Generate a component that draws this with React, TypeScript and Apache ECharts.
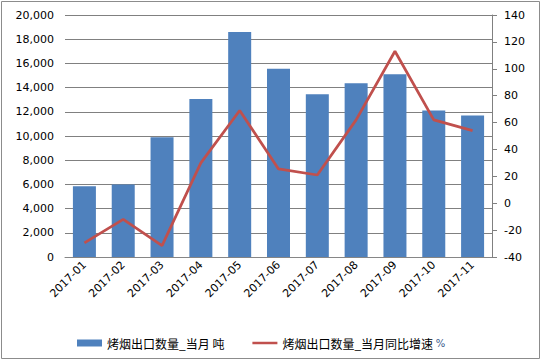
import React, { useEffect, useRef } from "react";
import * as echarts from "echarts";

const categories = ["2017-01", "2017-02", "2017-03", "2017-04", "2017-05", "2017-06", "2017-07", "2017-08", "2017-09", "2017-10", "2017-11"];
const volume = [5850, 6000, 9900, 13050, 18600, 15550, 13450, 14350, 15100, 12100, 11700];
const growth = [-29.5, -12, -31.5, 30, 69, 25.5, 21, 62, 113, 62, 54];
const barName = "烤烟出口数量_当月 吨";
const lineName = "烤烟出口数量_当月同比增速 %";

export default function App() {
  const ref = useRef<HTMLDivElement>(null);
  useEffect(() => {
    const chart = echarts.init(ref.current!, null, { renderer: "svg" });
    const font = "DejaVu Sans, Verdana, sans-serif";
    chart.setOption({
      animation: false,
      backgroundColor: "#ffffff",
      graphic: [
        {
          type: "rect",
          shape: { x: 1.5, y: 1.5, width: 538, height: 357 },
          style: { fill: "none", stroke: "#8c8c8c", lineWidth: 1 },
          silent: true,
        },
      ],
      grid: { left: 65, right: 53, top: 15, bottom: 106 },
      legend: {
        left: 72,
        top: 332,
        itemWidth: 25,
        itemHeight: 7,
        itemGap: 28,
        textStyle: {
          fontFamily: "Noto Sans CJK SC",
          fontSize: 12,
          color: "#000",
          rich: {
            a: { fontFamily: "Noto Sans CJK SC", fontSize: 12, color: "#000" },
            b: { fontFamily: font, fontSize: 10, color: "#3a5a8c" },
          },
        },
        formatter: (n: string) => {
          if (n === lineName) return "{a|烤烟出口数量_当月同比增速} {b|%}";
          return "{a|" + n + "}";
        },
        data: [
          { name: barName, icon: "rect" },
          { name: lineName, icon: "path://M0,0H26V2.6H0Z" },
        ],
      },
      xAxis: {
        type: "category",
        data: categories,
        axisLine: { show: true, lineStyle: { color: "#868686", width: 1 } },
        axisTick: { show: false },
        axisLabel: { rotate: 45, fontFamily: font, fontSize: 11, color: "#000", margin: 6, interval: 0 },
      },
      yAxis: [
        {
          type: "value",
          min: 0,
          max: 20000,
          interval: 2000,
          axisLine: { show: false },
          axisTick: { show: false },
          splitLine: { lineStyle: { color: "#808080", width: 1 } },
          axisLabel: {
            fontFamily: font,
            fontSize: 11,
            color: "#000",
            margin: 11,
            formatter: (v: number) => v.toLocaleString("en-US"),
          },
        },
        {
          type: "value",
          min: -40,
          max: 140,
          interval: 20,
          position: "right",
          axisLine: { show: true, lineStyle: { color: "#808080", width: 1 } },
          axisTick: { show: true, length: 5, inside: false, lineStyle: { color: "#808080" } },
          splitLine: { show: false },
          axisLabel: { fontFamily: font, fontSize: 11, color: "#000", margin: 12 },
        },
      ],
      series: [
        {
          name: barName,
          type: "bar",
          data: volume,
          barWidth: 23,
          itemStyle: { color: "#4F81BD" },
          yAxisIndex: 0,
        },
        {
          name: lineName,
          type: "line",
          data: growth,
          yAxisIndex: 1,
          symbol: "none",
          showSymbol: false,
          lineStyle: { color: "#C0504D", width: 2.75 },
          itemStyle: { color: "#C0504D" },
        },
      ],
    });
    return () => chart.dispose();
  }, []);
  return <div ref={ref} style={{ position: "absolute", left: 0, top: 0, width: 545, height: 363 }} />;
}
